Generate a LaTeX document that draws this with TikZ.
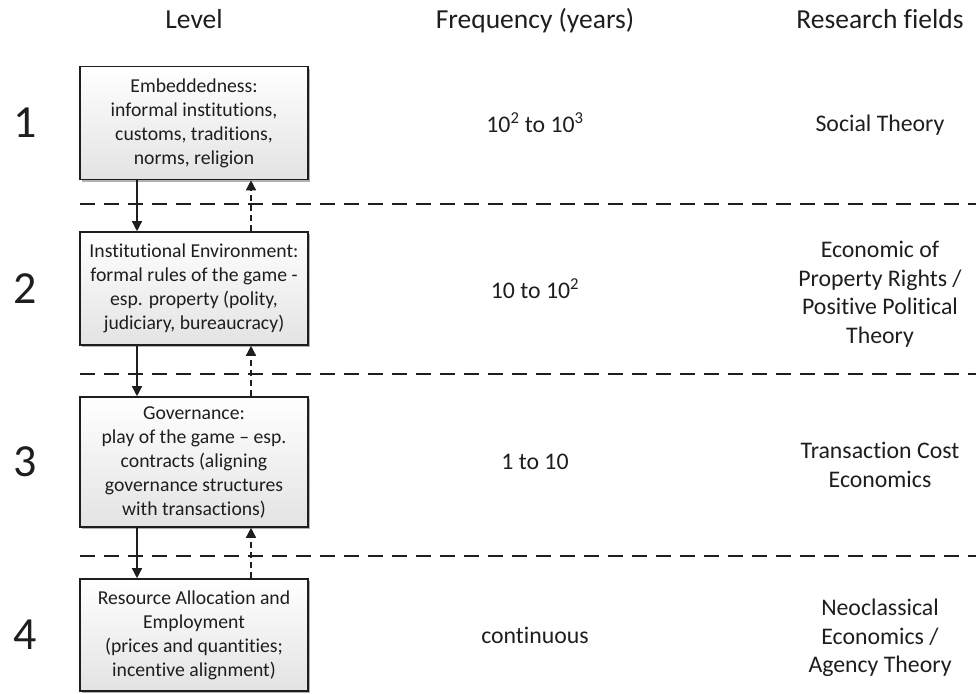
\documentclass[tikz,border=0pt]{standalone}
\usepackage{fontspec}
\setmainfont{Carlito}[Ligatures=NoCommon]
\usetikzlibrary{arrows.meta,shadows}
\definecolor{ink}{HTML}{1E1E1E}
\tikzset{
  levelbox/.style={draw=ink, line width=1.6pt, minimum width=228pt, inner sep=0pt,
    top color=white, bottom color=gray!22, align=center, text=ink,
    font=\fontsize{19.7}{24}\selectfont,
    drop shadow={shadow xshift=2pt, shadow yshift=-2pt, fill=black, opacity=0.3}},
  hdr/.style={anchor=base, text=ink, font=\fontsize{27.5}{30}\selectfont},
  num/.style={text=ink, inner sep=0pt, font=\fontsize{46}{50}\selectfont},
  coltext/.style={text=ink, align=center, inner sep=0pt, font=\fontsize{23.8}{28.5}\selectfont},
  sep/.style={draw=ink, line width=1.8pt, dash pattern=on 15pt off 9pt},
  down/.style={draw=ink, line width=1.4pt, -{Triangle[length=10pt,width=10pt]}},
  up/.style={draw=ink, line width=1.4pt, dash pattern=on 6pt off 4pt, -{Triangle[length=10pt,width=10pt]}}
}
\begin{document}
\begin{tikzpicture}[x=1pt,y=-1pt]
\useasboundingbox[fill=white] (0,0) rectangle (976,693);
% headers
\node[hdr] (hl) at (194,29) {Level};
\node[hdr] (hf) at (535,29) {Frequency (years)};
\node[hdr] (hr) at (880,29) {Research fields};
% separators
\coordinate (s1a) at (80,204); \coordinate (s1b) at (976,204);
\coordinate (s2a) at (80,374); \coordinate (s2b) at (976,374);
\coordinate (s3a) at (80,556); \coordinate (s3b) at (976,556);
\draw[sep] (s1a) -- (s1b);
\draw[sep] (s2a) -- (s2b);
\draw[sep] (s3a) -- (s3b);
% boxes
\node[levelbox, minimum height=113pt] (b1) at (194,123) {Embeddedness:\\informal institutions,\\customs, traditions,\\norms, religion};
\node[levelbox, minimum height=113pt] (b2) at (194,288.5) {Institutional Environment:\\formal rules of the game -\\esp. property (polity,\\judiciary, bureaucracy)};
\node[levelbox, minimum height=130pt] (b3) at (194,462) {Governance:\\play of the game -- esp.\\contracts (aligning\\governance structures\\with transactions)};
\node[levelbox, minimum height=112pt] (b4) at (194,635) {Resource Allocation and\\Employment\\(prices and quantities;\\incentive alignment)};
% arrows
\foreach \a/\b in {b1/b2,b2/b3,b3/b4}{
  \draw[down] ([xshift=-57pt]\a.south) -- ([xshift=-57pt]\b.north);
  \draw[up] ([xshift=57pt]\b.north) -- ([xshift=57pt]\a.south);
}
% level numbers
\node[num] (n1) at (25,123) {1};
\node[num] (n2) at (25,289) {2};
\node[num] (n3) at (25,462) {3};
\node[num] (n4) at (25,635) {4};
% frequencies
\node[coltext] (f1) at (535,123) {10\textsuperscript{2} to 10\textsuperscript{3}};
\node[coltext] (f2) at (535,289) {10 to 10\textsuperscript{2}};
\node[coltext] (f3) at (535,462) {1 to 10};
\node[coltext] (f4) at (535,635) {continuous};
% research fields
\node[coltext] (r1) at (880,125) {Social Theory};
\node[coltext] (r2) at (880,294) {Economic of\\Property Rights /\\Positive Political\\Theory};
\node[coltext] (r3) at (880,465) {Transaction Cost\\Economics};
\node[coltext] (r4) at (880,638) {Neoclassical\\Economics /\\Agency Theory};
\end{tikzpicture}
\end{document}
